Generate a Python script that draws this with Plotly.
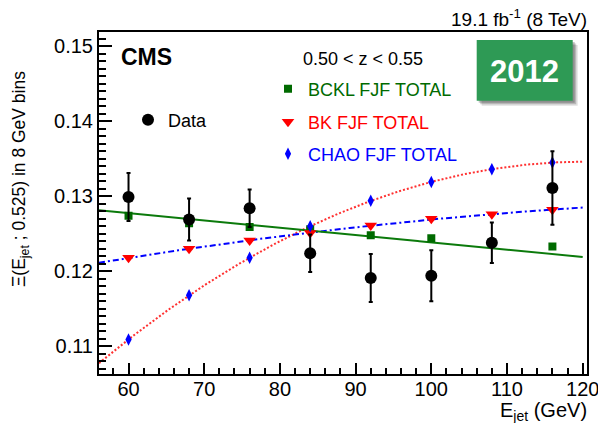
import numpy as np
import plotly.graph_objects as go

# ---------------- data ----------------
energy = [60, 68, 76, 84, 92, 100, 108, 116]
data_vals = [0.1299, 0.1269, 0.1284, 0.1224, 0.1191, 0.1194, 0.1238, 0.1311]
data_err = [0.0032, 0.0028, 0.0025, 0.0025, 0.0032, 0.0034, 0.0027, 0.0049]
bckl_vals = [0.1274, 0.1264, 0.1259, 0.1256, 0.1248, 0.1244, 0.1238, 0.1233]
bk_vals = [0.1218, 0.1230, 0.1241, 0.1251, 0.1261, 0.1270, 0.1276, 0.1282]
chao_vals = [0.1109, 0.1168, 0.1218, 0.1260, 0.1294, 0.1319, 0.1336, 0.1345]
# straight line drawn through the BCKL region (constant, slope)
bckl_line = [0.13359, -0.0000973]

x_range = [56.1, 120.57]
y_range = [0.1063, 0.1519]
fit_end = 120

# ---------------- geometry helpers ----------------
W, H = 598, 423
L, R, T, B = 99, 587, 32, 374


def px(xp):
    return (xp - L) / (R - L)


def py(yp):
    return (B - yp) / (B - T)


FONT = "Liberation Sans, Arial, Helvetica, sans-serif"
GREEN = "#006a00"
GREEN_LINE = "#0b7a0b"
RED = "#ff0000"
BLUE = "#0000ff"

xs = np.linspace(x_range[0], fit_end, 300)
chao_fit = np.polyval(np.polyfit(energy, chao_vals, 2), xs)
bk_fit = np.polyval(np.polyfit(energy, bk_vals, 2), xs)
bckl_fit = bckl_line[0] + bckl_line[1] * xs

fig = go.Figure()

# fit curves
fig.add_trace(go.Scatter(x=xs, y=chao_fit, mode="lines", showlegend=False,
                         line=dict(color="#ff3030", width=2, dash="2px,2px")))
fig.add_trace(go.Scatter(x=xs, y=bk_fit, mode="lines", showlegend=False,
                         line=dict(color=BLUE, width=2, dash="6px,3px,2px,3px")))
fig.add_trace(go.Scatter(x=xs, y=bckl_fit, mode="lines", showlegend=False,
                         line=dict(color=GREEN_LINE, width=2)))

# theory points
fig.add_trace(go.Scatter(x=energy, y=bckl_vals, mode="markers", name="BCKL FJF TOTAL",
                         legend="legend",
                         marker=dict(symbol="square", size=8, color=GREEN)))
fig.add_trace(go.Scatter(x=energy, y=bk_vals, mode="markers", name="BK FJF TOTAL",
                         legend="legend2",
                         marker=dict(symbol="triangle-down", size=11, color=RED)))
fig.add_trace(go.Scatter(x=energy, y=chao_vals, mode="markers", name="CHAO FJF TOTAL",
                         legend="legend3",
                         marker=dict(symbol="diamond-tall", size=9, color=BLUE)))

# data
fig.add_trace(go.Scatter(x=energy, y=data_vals, mode="markers", name="Data",
                         legend="legend4",
                         error_y=dict(type="data", array=data_err, color="black",
                                      thickness=2, width=2),
                         marker=dict(symbol="circle", size=12, color="black")))


def leg(xp, yp, color):
    return dict(x=px(xp), y=py(yp), xanchor="left", yanchor="middle",
                bgcolor="rgba(0,0,0,0)", borderwidth=0,
                font=dict(family=FONT, size=18, color=color))


fig.update_layout(
    width=W, height=H,
    margin=dict(l=L, r=W - R, t=T, b=H - B, autoexpand=False),
    plot_bgcolor="white", paper_bgcolor="white",
    font=dict(family=FONT, color="black"),
    legend=leg(268, 89, GREEN),
    legend2=leg(268, 122, RED),
    legend3=leg(268, 154, BLUE),
    legend4=leg(128, 120, "black"),
    xaxis=dict(range=x_range, showline=True, mirror=True, linecolor="black", linewidth=2,
               ticks="inside", ticklen=11, tickwidth=1.5, tickcolor="black",
               dtick=10, tick0=0, showgrid=False, zeroline=False, automargin=False,
               ticklabelstandoff=-4, ticklabeloverflow="allow",
               tickfont=dict(family=FONT, size=20),
               minor=dict(ticks="inside", ticklen=6, tickwidth=1.5, dtick=2,
                          tickcolor="black", showgrid=False)),
    yaxis=dict(range=y_range, showline=True, mirror=True, linecolor="black", linewidth=2,
               ticks="inside", ticklen=13, tickwidth=1.5, tickcolor="black",
               dtick=0.01, tick0=0, tickformat=".2f", showgrid=False, zeroline=False,
               automargin=False, ticklabeloverflow="allow",
               tickfont=dict(family=FONT, size=20),
               minor=dict(ticks="inside", ticklen=7, tickwidth=1.5, dtick=0.001,
                          tickcolor="black", showgrid=False)),
)

# 2012 badge with shadow
bx0, bx1, by0, by1 = 476.7, 572.7, 40, 100.7
for off, op in [(5, 0.12), (3.5, 0.18), (2, 0.22)]:
    fig.add_shape(type="rect", xref="paper", yref="paper",
                  x0=px(bx0 + off), x1=px(bx1 + off), y0=py(by1 + off), y1=py(by0 + off),
                  fillcolor=f"rgba(0,0,0,{op})", line=dict(width=0), layer="above")
fig.add_shape(type="rect", xref="paper", yref="paper",
              x0=px(bx0), x1=px(bx1), y0=py(by1), y1=py(by0),
              fillcolor="#2e9a55", line=dict(width=0), layer="above")

ann = [
    dict(text="<b>2012</b>", x=px((bx0 + bx1) / 2), y=py((by0 + by1) / 2 + 1),
         xanchor="center", yanchor="middle", font=dict(size=31, color="white")),
    dict(text="<b>CMS</b>", x=px(119), y=py(57), xanchor="left", yanchor="middle",
         font=dict(size=23)),
    dict(text="0.50 < z < 0.55", x=px(301), y=py(59), xanchor="left", yanchor="middle",
         font=dict(size=18)),
    dict(text="19.1 fb<sup>-1</sup> (8 TeV)", x=px(589), y=py(18), xanchor="right",
         yanchor="middle", font=dict(size=19)),
    dict(text="E<sub>jet</sub> (GeV)", x=px(589), y=py(411), xanchor="right",
         yanchor="middle", font=dict(size=20)),
    dict(text="Ξ(E<sub>jet</sub> ; 0.525) in 8 GeV bins", x=px(20), y=py(179),
         xanchor="center", yanchor="middle", textangle=-90, font=dict(size=17.5)),
]
for a in ann:
    a.update(xref="paper", yref="paper", showarrow=False)
    a["font"] = dict(family=FONT, color=a["font"].get("color", "black"), size=a["font"]["size"])
    fig.add_annotation(**a)

fig.write_html("out.html")
